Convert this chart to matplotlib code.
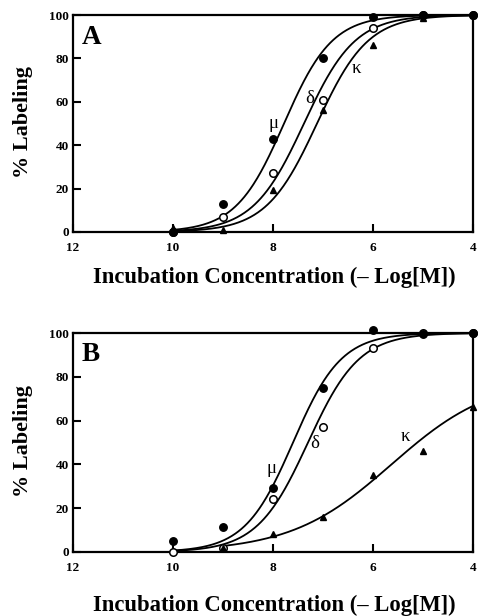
import numpy as np
import matplotlib
matplotlib.use("Agg")
import matplotlib.pyplot as plt

# ---------------- data ----------------
conc = [10, 9, 8, 7, 6, 5, 4]                 # -log[M]

# Panel A
a_mu = [0, 13, 43, 80, 99, 100, 100]
a_delta = [0, 7, 27, 61, 94, 100, 100]
a_kappa = [2, 1, 19.5, 56, 86, 98.5, 100]

# Panel B
b_mu = [5, 11.5, 29, 75, 101.5, 99.5, 100]
b_delta = [0, 2, 24, 57, 93, 100, 100]
b_kappa_conc = [9, 8, 7, 6, 5, 4]
b_kappa = [2, 8, 16, 35, 46, 66]

# fitted sigmoid parameters: order mu, delta, kappa
a_fit_top = [100, 100, 100]
a_fit_hill = [0.9, 0.85, 0.85]
a_fit_mid = [7.78, 7.38, 7.12]
a_fit_start = [10, 10, 10]

b_fit_top = [100, 100, 80]
b_fit_hill = [0.9, 0.85, 0.43]
b_fit_mid = [7.6, 7.3, 5.63]
b_fit_start = [10, 10, 9]

receptors = ["\u03bc", "\u03b4", "\u03ba"]
a_label_pos = [(7.99, 50), (7.26, 61.5), (6.33, 75.3)]
b_label_pos = [(8.03, 38.2), (7.16, 49.6), (5.36, 52.6)]

xticks = [12, 10, 8, 6, 4]
yticks = [0, 20, 40, 60, 80, 100]
xlabel = "Incubation Concentration (\u2013 Log[M])"
ylabel = "% Labeling"

# ---------------- drawing ----------------
SERIF = ["Liberation Serif", "DejaVu Serif"]
plt.rcParams["font.family"] = SERIF

W, H = 478, 616
fig = plt.figure(figsize=(W / 100, H / 100), dpi=100)


def px_axes(left, top, right, bottom):
    return fig.add_axes([left / W, 1 - bottom / H, (right - left) / W, (bottom - top) / H])


axA = px_axes(73, 15, 473, 232)
axB = px_axes(73, 333, 473, 552)


def sigmoid(p, top, n, c):
    return top / (1 + 10 ** (n * (p - c)))


def draw_panel(ax, letter, mu, delta, kconc, kappa, tops, hills, mids, starts,
               label_pos, xlab_y, letter_y):
    for top, n, c, s in zip(tops, hills, mids, starts):
        p = np.linspace(s, 4, 400)
        ax.plot(p, sigmoid(p, top, n, c), color="black", lw=1.3, zorder=2)
    ax.plot(conc, delta, linestyle="none", marker="o", ms=5.4, mfc="white",
            mec="black", mew=1.1, clip_on=False, zorder=3)
    ax.plot(kconc, kappa, linestyle="none", marker="^", ms=4.3, mfc="black",
            mec="black", clip_on=False, zorder=4)
    ax.plot(conc, mu, linestyle="none", marker="o", ms=5.4, mfc="black",
            mec="black", clip_on=False, zorder=5)

    for txt, (x, y) in zip(receptors, label_pos):
        ax.text(x, y, txt, fontsize=13.5, ha="center", va="center", zorder=6)

    ax.text(0.0225, letter_y, letter, transform=ax.transAxes, fontsize=19.5,
            fontweight="bold", ha="left", va="top")

    ax.set_xlim(12, 4)
    ax.set_ylim(0, 100)
    ax.set_xticks(xticks)
    ax.set_yticks(yticks)
    ax.set_xticklabels([str(t) for t in xticks])
    ax.set_yticklabels([str(t) for t in yticks])
    ax.tick_params(direction="in", length=6, width=1.5, labelsize=9.5)
    ax.tick_params(axis="x", pad=7)
    ax.tick_params(axis="y", pad=3)
    for lab in ax.get_xticklabels() + ax.get_yticklabels():
        lab.set_fontweight("bold")
    for sp in ax.spines.values():
        sp.set_linewidth(1.6)

    ax.set_xlabel(xlabel, fontsize=16.3, fontweight="bold", va="center")
    ax.xaxis.set_label_coords(0.5025, xlab_y)
    ax.set_ylabel(ylabel, fontsize=16, fontweight="bold", va="center")
    ax.yaxis.set_label_coords(-0.125, 0.507)


draw_panel(axA, "A", a_mu, a_delta, conc, a_kappa,
           a_fit_top, a_fit_hill, a_fit_mid, a_fit_start, a_label_pos, -0.207, 0.955)
draw_panel(axB, "B", b_mu, b_delta, b_kappa_conc, b_kappa,
           b_fit_top, b_fit_hill, b_fit_mid, b_fit_start, b_label_pos, -0.242, 0.96)

fig.savefig("out.png", dpi=100)
